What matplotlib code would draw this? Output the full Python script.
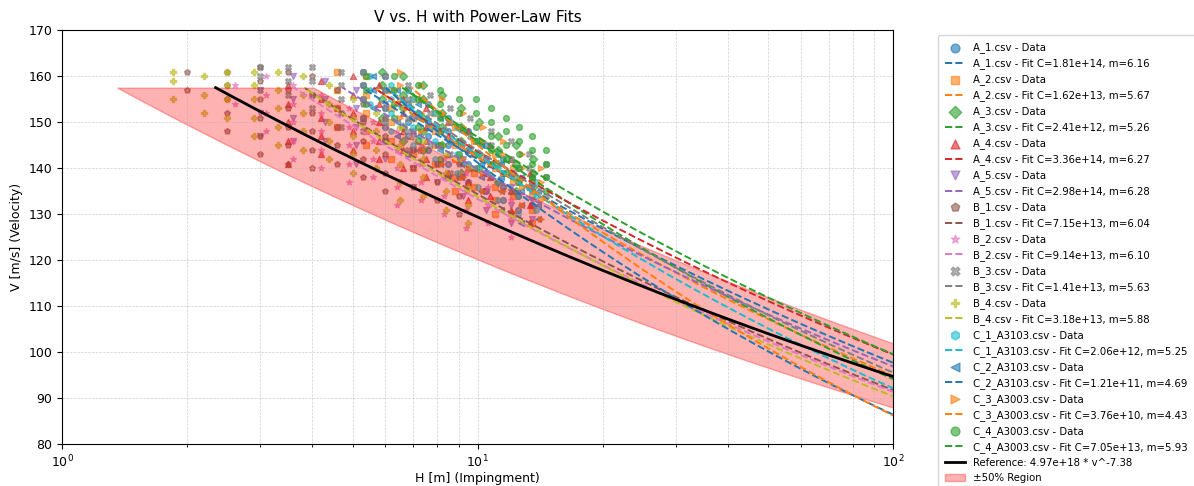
import numpy as np
import matplotlib
matplotlib.use("Agg")
import matplotlib.pyplot as plt

names = ["A_1.csv", "A_2.csv", "A_3.csv", "A_4.csv", "A_5.csv",
         "B_1.csv", "B_2.csv", "B_3.csv", "B_4.csv",
         "C_1_A3103.csv", "C_2_A3103.csv", "C_3_A3003.csv", "C_4_A3003.csv"]
fit_C = [1.81e14, 1.62e13, 2.41e12, 3.36e14, 2.98e14,
         7.15e13, 9.14e13, 1.41e13, 3.18e13,
         2.06e12, 1.21e11, 3.76e10, 7.05e13]
fit_m = [6.16, 5.67, 5.26, 6.27, 6.28,
         6.04, 6.10, 5.63, 5.88,
         5.25, 4.69, 4.43, 5.93]

# reference curve (label as printed, C_plot is the value in plot units)
ref_C_label = 4.97e18
ref_m = 7.38
ref_C_plot = 3.85e16
v_top = 157.5
v_bottom = 80.0
band_lo, band_hi = 0.58, 1.72

# measured data: (H, [V values]) per column
a1 = [(5.3, [161, 158, 155, 151]), (6.0, [160, 157, 153, 149, 146]),
      (6.8, [157, 154, 150, 147, 143]), (7.6, [154, 150, 147, 144]),
      (8.5, [151, 148, 145, 141, 138]), (9.5, [148, 144, 141, 137]),
      (10.5, [145, 142, 139, 135]), (11.5, [142, 139, 136, 133]),
      (12.5, [140, 137, 134, 131]), (13.5, [138, 135, 132])]
a2 = [(4.6, [161, 157, 153, 149]), (5.4, [160, 156, 152, 148, 145]),
      (6.2, [157, 153, 150, 146, 142]), (7.0, [155, 151, 147, 143, 140]),
      (7.9, [152, 148, 145, 141]), (8.8, [149, 145, 142, 138, 135]),
      (9.8, [146, 143, 139, 136]), (11.0, [143, 140, 136, 133, 130]),
      (12.2, [140, 137, 134, 130]), (13.5, [137, 134, 131, 128])]
a3 = [(5.9, [161, 158, 155, 151]), (6.6, [160, 156, 153, 149, 146]),
      (7.4, [158, 155, 151, 148, 144]), (8.2, [156, 152, 149, 145]),
      (9.1, [153, 149, 146, 142, 139]), (10.1, [150, 146, 143, 140]),
      (11.2, [147, 144, 141, 137]), (12.4, [145, 141, 138, 135]),
      (13.6, [142, 139, 136])]
a4 = [(3.5, [158, 154, 150, 146, 141]), (4.2, [159, 155, 151, 147, 143]),
      (5.0, [160, 156, 152, 148, 144]), (5.8, [158, 154, 150, 146, 142]),
      (6.6, [155, 152, 148, 144, 140]), (7.5, [153, 149, 146, 142, 138]),
      (8.5, [150, 147, 143, 139]), (9.5, [148, 144, 140, 137, 133]),
      (10.7, [145, 141, 138, 134]), (12.0, [142, 139, 135, 131]),
      (13.4, [139, 136, 132, 128])]
a5 = [(3.0, [157, 152, 147]), (3.6, [160, 155, 151, 146]),
      (4.3, [159, 155, 150, 146]), (5.1, [157, 153, 149, 145, 141]),
      (6.0, [154, 150, 146, 142]), (7.0, [151, 147, 144, 140, 136]),
      (8.0, [148, 145, 141, 137]), (9.2, [145, 142, 138, 134]),
      (10.5, [142, 139, 135, 131]), (12.0, [139, 136, 132, 128]),
      (13.5, [136, 133, 129])]
b1 = [(2.0, [161, 157]), (2.5, [161, 158, 155, 152, 148]),
      (3.0, [162, 159, 155, 151, 147, 143]), (3.5, [161, 157, 153, 149, 145, 141]),
      (4.0, [160, 156, 152, 148, 144, 140]), (4.6, [157, 153, 149, 145, 141]),
      (5.3, [154, 150, 146, 142, 138]), (6.0, [151, 147, 143, 139, 135]),
      (7.0, [148, 144, 140, 136]), (8.0, [145, 141, 137, 133]),
      (9.0, [141, 138, 134, 130])]
b2 = [(2.6, [158, 154]), (3.1, [160, 156, 152, 148]),
      (3.6, [158, 154, 150, 146, 142]), (4.2, [156, 152, 148, 144, 140]),
      (4.9, [153, 149, 145, 141, 137]), (5.6, [150, 146, 142, 138]),
      (6.4, [148, 144, 140, 136, 132]), (7.3, [145, 141, 137, 133]),
      (8.3, [142, 138, 134, 130]), (9.4, [139, 135, 131, 127]),
      (10.6, [136, 132, 128]), (12.0, [133, 129, 125])]
b3 = [(3.0, [162, 160, 157]), (3.5, [162, 159, 156]),
      (4.0, [162, 159, 156, 153]), (4.7, [161, 158, 155, 152, 149]),
      (5.3, [161, 158, 155, 151, 148]), (6.0, [160, 157, 153, 150, 146]),
      (6.8, [158, 155, 151, 148, 144]), (7.7, [156, 152, 149, 145]),
      (8.6, [153, 150, 146, 143, 139]), (9.6, [151, 147, 144, 140]),
      (10.8, [148, 145, 141, 138]), (12.0, [146, 142, 139, 135]),
      (13.3, [143, 140, 136]), (14.6, [141, 138, 134])]
b4 = [(1.85, [161, 159, 155]), (2.2, [160, 156, 152]),
      (2.5, [161, 158, 155, 151]), (2.9, [161, 158, 155, 151, 147]),
      (3.3, [161, 157, 153, 149, 145]), (3.8, [160, 156, 152, 148, 144]),
      (4.4, [158, 154, 150, 146, 142]), (5.0, [155, 151, 147, 143, 139]),
      (5.7, [152, 148, 144, 140]), (6.5, [149, 145, 141, 137, 133]),
      (7.4, [146, 142, 138, 134]), (8.4, [143, 139, 135, 131]),
      (9.5, [140, 136, 132, 128])]
c1 = [(5.5, [160, 157, 154]), (6.2, [158, 155, 152, 148]),
      (7.0, [155, 152, 149, 145]), (7.9, [152, 149, 146, 142]),
      (8.9, [149, 146, 143, 139]), (10.0, [146, 143, 140, 136]),
      (11.2, [143, 140, 137, 133]), (12.5, [140, 137, 134, 130]),
      (13.8, [137, 134, 131])]
c2 = [(5.6, [160, 157, 153]), (6.4, [157, 154, 150, 147]),
      (7.2, [154, 151, 147, 144]), (8.1, [151, 148, 144, 141]),
      (9.1, [148, 145, 141, 138]), (10.2, [145, 141, 138, 135]),
      (11.4, [141, 138, 135, 131]), (12.7, [138, 135, 132, 128]),
      (14.0, [135, 132, 129])]
c3 = [(6.5, [161, 158, 155, 151]), (7.3, [158, 155, 152, 148, 144]),
      (8.2, [155, 152, 148, 145, 141]), (9.2, [152, 149, 145, 142, 138]),
      (10.3, [149, 146, 142, 139, 135]), (11.5, [146, 143, 139, 135]),
      (12.8, [143, 140, 136, 132]), (14.2, [140, 137, 133, 129])]
c4 = [(5.4, [160, 157, 154]), (6.3, [160, 157, 154, 151]),
      (7.2, [158, 155, 152, 149, 146]), (8.1, [157, 154, 151, 148, 145, 142]),
      (9.0, [155, 152, 149, 146, 143]), (9.9, [155, 152, 149, 146, 143, 140]),
      (10.8, [153, 150, 147, 144, 141]), (11.7, [151, 148, 145, 142, 139]),
      (12.6, [149, 146, 143, 140, 137]), (13.5, [147, 144, 141, 138]),
      (14.6, [144, 141, 138, 135])]
datasets = [a1, a2, a3, a4, a5, b1, b2, b3, b4, c1, c2, c3, c4]

markers = ['o', 's', 'D', '^', 'v', 'p', '*', 'X', 'P', 'h', '<', '>', 'o']
colors = plt.rcParams['axes.prop_cycle'].by_key()['color']

plt.rcParams['font.size'] = 9

fig = plt.figure(figsize=(11.94, 4.86), dpi=100)
ax = fig.add_axes([0.052, 0.086, 0.696, 0.852])

v_grid = np.linspace(v_bottom, v_top, 300)

for i, name in enumerate(names):
    col = colors[i % 10]
    h = [hc for hc, vs in datasets[i] for _ in vs]
    v = [vv for hc, vs in datasets[i] for vv in vs]
    ax.scatter(h, v, s=18, marker=markers[i], color=col, alpha=0.6,
               label=f"{name} - Data")
    h_fit = fit_C[i] * v_grid ** (-fit_m[i])
    ax.plot(h_fit, v_grid, '--', color=col, lw=1.4,
            label=f"{name} - Fit C={fit_C[i]:.2e}, m={fit_m[i]:.2f}")

h_ref = ref_C_plot * v_grid ** (-ref_m)
ax.plot(h_ref, v_grid, color='black', lw=2,
        label=f"Reference: {ref_C_label:.2e} * v^-{ref_m:.2f}")
ax.fill_betweenx(v_grid, h_ref * band_lo, h_ref * band_hi, color='red',
                 alpha=0.3, label="±50% Region")

ax.set_xscale('log')
ax.set_xlim(1, 100)
ax.set_ylim(80, 170)
ax.set_xlabel("H [m] (Impingment)", labelpad=1)
ax.set_ylabel("V [m/s] (Velocity)")
ax.set_title("V vs. H with Power-Law Fits", fontsize=11)
ax.grid(True, which='both', ls='--', lw=0.5, alpha=0.6)
ax.legend(bbox_to_anchor=(1.05, 0.995), loc='upper left', fontsize=7.3,
          markerscale=1.5, labelspacing=0.5, borderpad=0.7,
          borderaxespad=0.3)

fig.savefig("out.png", dpi=100)
